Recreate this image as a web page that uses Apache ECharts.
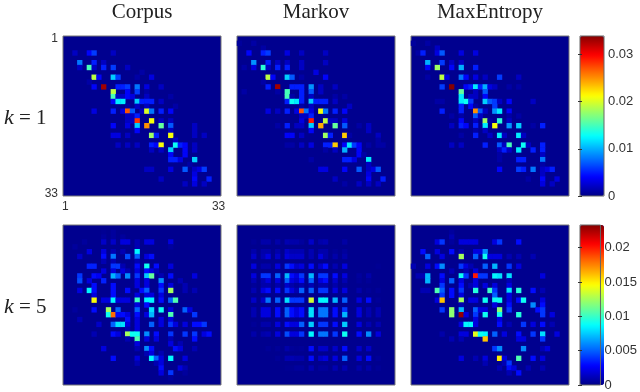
<!DOCTYPE html>
<html><head><meta charset="utf-8">
<style>html,body{margin:0;padding:0;background:#fff}#c{width:640px;height:392px;filter:blur(0.45px)}</style>
<script src="https://cdn.jsdelivr.net/npm/echarts@6/dist/echarts.min.js"></script>
</head><body><div id="c"></div>
<script>
const panelTitles = ['Corpus', 'Markov', 'MaxEntropy'];
const rowLabels = ['1', '5'];
const tickEnds = ['1', '33'];
const colorMaxK1 = 0.0339, colorMaxK5 = 0.0233;
const ticksK1 = [0, 0.01, 0.02, 0.03], ticksK5 = [0, 0.005, 0.01, 0.015, 0.02];

// [row, col, value], zero-based from top-left; unlisted cells are 0
const corpusK1 = [[3,2,.002],[3,5,.004],[3,6,.006],[3,10,.002],
[5,3,.008],[5,6,.005],[5,8,.002],
[6,3,.002],[6,5,.015],[6,6,.002],[6,8,.005],[6,10,.006],[6,13,.002],[7,16,.001],
[8,6,.019],[8,7,.004],[8,10,.011],[8,11,.006],[8,15,.001],[8,18,.003],[9,5,.001],
[10,6,.004],[10,8,.033],[10,11,.005],[10,12,.005],[10,13,.006],[10,15,.008],[10,17,.003],[10,20,.002],
[11,10,.019],[11,13,.004],[11,15,.006],[11,17,.001],
[12,10,.015],[12,11,.002],[12,12,.002],[12,13,.004],[12,14,.003],[12,17,.002],[12,22,.001],
[13,10,.004],[13,11,.012],[13,12,.012],[13,15,.011],[13,16,.005],[13,17,.005],[13,18,.005],[13,20,.002],
[14,13,.001],[14,15,.002],[14,17,.002],[14,23,.001],
[15,6,.003],[15,10,.005],[15,12,.003],[15,13,.027],[15,14,.007],[15,16,.002],[15,17,.02],[15,18,.008],[15,20,.005],[15,22,.004],
[16,13,.002],[16,14,.002],[16,15,.005],
[17,13,.002],[17,14,.002],[17,15,.028],[17,18,.021],[17,20,.002],[17,22,.002],
[18,10,.004],[18,13,.003],[18,15,.011],[18,17,.025],[18,20,.016],[18,22,.007],[18,27,.002],
[19,15,.004],[19,22,.002],[19,27,.002],
[20,10,.003],[20,11,.003],[20,13,.002],[20,18,.018],[20,19,.005],[20,22,.021],[20,27,.002],[20,29,.002],
[21,23,.002],
[22,11,.002],[22,13,.002],[22,15,.002],[22,18,.005],[22,19,.004],[22,20,.021],[22,23,.013],[22,24,.005],[22,25,.004],[22,27,.002],
[23,18,.002],[23,20,.002],[23,22,.011],[23,25,.004],[23,27,.002],
[24,22,.004],[24,25,.004],
[25,22,.005],[25,23,.005],[25,24,.003],[25,27,.011],[26,26,.001],
[27,17,.002],[27,18,.002],[27,22,.003],[27,25,.007],[27,27,.002],[27,28,.003],[27,29,.006],
[28,27,.003],[29,20,.002],[29,27,.004],[29,30,.005],
[30,25,.002],[30,27,.003],[30,29,.002]];

const markovK1 = [[1,0,.0007],[1,3,.001],[2,5,.001],
[3,2,.004],[3,5,.005],[3,6,.006],[3,10,.003],[3,13,.002],[3,18,.002],
[5,3,.009],[5,6,.005],[5,8,.002],[5,10,.002],[5,13,.002],[5,18,.002],
[6,1,.001],[6,3,.003],[6,5,.014],[6,6,.002],[6,8,.005],[6,10,.005],[6,13,.002],[7,16,.003],
[8,6,.019],[8,7,.004],[8,10,.011],[8,11,.007],[8,13,.001],[8,18,.004],[9,5,.001],
[10,6,.005],[10,8,.033],[10,11,.005],[10,12,.005],[10,13,.005],[10,15,.009],[10,17,.002],[10,20,.002],
[11,1,.001],[11,8,.001],[11,10,.015],[11,13,.005],[11,15,.007],[11,17,.002],
[12,10,.015],[12,11,.001],[12,13,.005],[12,15,.002],[12,20,.001],[12,22,.001],
[13,10,.005],[13,11,.013],[13,12,.012],[13,13,.005],[13,15,.011],[13,16,.005],[13,17,.005],[13,18,.005],[13,20,.002],
[14,13,.001],[14,15,.002],[14,23,.002],
[15,6,.003],[15,8,.002],[15,10,.005],[15,12,.003],[15,13,.027],[15,14,.008],[15,15,.003],[15,17,.021],[15,18,.008],[15,20,.005],[15,22,.004],
[16,13,.002],[16,14,.002],[16,15,.005],
[17,13,.003],[17,15,.029],[17,18,.019],[17,19,.002],[17,20,.002],[17,22,.003],
[18,8,.001],[18,10,.005],[18,12,.002],[18,13,.002],[18,15,.011],[18,17,.024],[18,20,.016],[18,22,.007],[18,25,.001],[18,27,.002],
[19,15,.004],[19,27,.002],
[20,10,.004],[20,11,.004],[20,13,.002],[20,18,.018],[20,19,.005],[20,22,.023],[20,23,.001],[20,29,.002],[21,29,.001],
[22,10,.001],[22,11,.001],[22,13,.002],[22,15,.003],[22,18,.005],[22,19,.005],[22,20,.023],[22,22,.004],[22,23,.012],[22,24,.006],[22,25,.004],[22,27,.001],[22,29,.001],[22,30,.001],
[23,18,.001],[23,20,.002],[23,22,.01],[23,25,.004],
[24,25,.004],[24,26,.001],
[25,15,.001],[25,22,.005],[25,23,.005],[25,24,.003],[25,27,.012],[26,27,.002],
[27,17,.003],[27,18,.003],[27,22,.004],[27,25,.007],[27,27,.002],[27,28,.003],[27,29,.007],
[28,27,.003],[29,20,.002],[29,27,.004],[29,30,.005],
[30,22,.001],[30,25,.002],[30,27,.002],[30,29,.002]];

const maxEntK1 = [[1,0,.0007],[1,3,.001],[2,5,.002],
[3,1,.001],[3,2,.005],[3,5,.003],[3,6,.007],[3,10,.003],[3,13,.003],
[5,3,.01],[5,6,.006],[5,8,.002],[5,10,.002],
[6,3,.004],[6,5,.018],[6,8,.004],[6,10,.01],[6,13,.005],
[8,3,.001],[8,6,.019],[8,7,.003],[8,10,.008],[8,11,.004],[8,13,.003],[8,15,.002],[8,18,.006],[8,22,.002],
[10,6,.006],[10,8,.034],[10,11,.004],[10,12,.005],[10,13,.012],[10,14,.005],[10,15,.01],[10,16,.003],[10,17,.002],[10,20,.001],[10,22,.001],
[11,10,.016],[11,13,.002],[11,15,.007],
[12,10,.012],[12,12,.002],[12,13,.002],[12,15,.004],
[13,5,.001],[13,6,.001],[13,10,.012],[13,11,.013],[13,12,.006],[13,15,.011],[13,16,.007],[13,17,.006],[13,18,.002],[13,20,.004],[13,25,.002],
[14,10,.005],[14,12,.004],[14,13,.001],[14,17,.006],
[15,6,.005],[15,10,.005],[15,13,.025],[15,14,.007],[15,15,.002],[15,17,.009],[15,18,.012],[15,20,.004],
[16,8,.001],[16,10,.001],[16,13,.007],[16,14,.002],[16,20,.001],[16,22,.001],
[17,10,.004],[17,13,.002],[17,15,.018],[17,16,.001],[17,18,.014],[17,20,.002],
[18,8,.002],[18,10,.005],[18,11,.004],[18,13,.005],[18,15,.012],[18,17,.021],[18,20,.009],[18,22,.011],[18,25,.001],[18,27,.005],
[19,13,.001],[19,15,.002],
[20,10,.001],[20,13,.005],[20,16,.002],[20,18,.012],[20,19,.002],[20,22,.012],[20,23,.002],
[22,8,.002],[22,10,.002],[22,15,.005],[22,18,.007],[22,19,.002],[22,20,.015],[22,23,.013],[22,24,.002],[22,27,.005],
[23,18,.002],[23,19,.005],[23,20,.002],[23,22,.012],[23,25,.005],[23,27,.005],
[24,18,.001],[24,27,.002],
[25,18,.001],[25,22,.005],[25,23,.005],[25,27,.008],[26,27,.001],
[27,18,.004],[27,22,.006],[27,23,.005],[27,25,.008],[27,27,.002],[27,28,.003],[27,29,.005],
[28,27,.002],[29,24,.001],[29,27,.004],[29,30,.003],[30,27,.003],[30,29,.002]];

const corpusK5 = [[1,8,.0003],[1,10,.0005],[2,8,.0005],[2,10,.0005],[2,12,.0005],
[3,4,.0005],[3,8,.0015],[3,10,.0015],[3,12,.002],[3,13,.002],[3,15,.001],[3,17,.002],[3,18,.002],[3,22,.002],
[4,2,.0005],[4,15,.001],[4,22,.0005],
[5,5,.002],[5,8,.002],[5,10,.001],[5,12,.001],[5,15,.0085],
[6,3,.0015],[6,8,.003],[6,10,.0055],[6,13,.0045],[6,15,.005],[6,17,.002],[6,18,.003],
[7,8,.001],[7,10,.001],[7,15,.001],
[8,5,.0035],[8,6,.0035],[8,10,.004],[8,11,.004],[8,12,.001],[8,15,.003],[8,17,.009],[8,19,.003],[8,22,.002],
[9,8,.002],[9,10,.002],[9,12,.002],[9,13,.001],[9,15,.002],[9,17,.003],[9,18,.002],[9,19,.001],
[10,3,.004],[10,6,.003],[10,7,.0025],[10,10,.007],[10,11,.005],[10,13,.006],[10,15,.004],[10,17,.0075],[10,18,.011],[10,20,.001],[10,22,.003],[10,27,.002],
[11,3,.0045],[11,5,.002],[11,8,.0035],[11,15,.002],[11,17,.002],[11,20,.006],[11,24,.001],
[12,6,.003],[12,10,.003],[12,15,.002],[12,17,.002],[12,20,.003],[12,22,.002],[12,25,.001],
[13,3,.002],[13,5,.0085],[13,6,.003],[13,10,.003],[13,13,.003],[13,16,.003],[13,17,.005],[13,20,.004],[13,22,.0125],[13,25,.001],[13,27,.001],
[14,6,.002],[14,10,.003],[14,15,.002],[14,17,.002],[14,18,.002],[14,20,.002],
[15,6,.0145],[15,8,.002],[15,9,.002],[15,10,.0085],[15,11,.002],[15,12,.002],[15,13,.002],[15,15,.01],[15,17,.0085],[15,18,.0085],[15,20,.003],[15,22,.005],[15,23,.0105],
[16,15,.002],[16,17,.003],
[17,2,.0005],[17,6,.003],[17,9,.0125],[17,11,.005],[17,15,.005],[17,18,.008],[17,20,.009],[17,22,.002],[17,25,.005],[17,26,.002],
[18,9,.009],[18,10,.018],[18,11,.003],[18,12,.003],[18,13,.002],[18,15,.003],[18,17,.002],[18,18,.007],[18,22,.0105],[18,27,.004],
[19,3,.001],[19,13,.003],[19,15,.002],[19,20,.002],[19,22,.002],
[20,7,.0015],[20,10,.005],[20,11,.008],[20,12,.008],[20,13,.002],[20,15,.002],[20,18,.005],[20,20,.002],[20,22,.004],[20,23,.002],[20,25,.002],[20,27,.003],[20,28,.003],[20,29,.004],
[21,13,.001],[21,15,.002],
[22,6,.001],[22,10,.003],[22,11,.002],[22,13,.0125],[22,14,.009],[22,15,.009],[22,17,.006],[22,19,.003],[22,22,.004],[22,25,.004],[22,27,.004],[22,29,.002],[22,30,.003],
[23,13,.001],[23,15,.0105],[23,17,.002],[23,19,.002],[23,22,.001],[23,27,.003],
[24,15,.002],[24,22,.002],[24,24,.001],
[25,8,.002],[25,15,.001],[25,17,.006],[25,18,.003],[25,23,.003],[25,24,.002],[25,27,.001],
[26,17,.001],[26,18,.002],[26,20,.001],
[27,10,.003],[27,15,.002],[27,18,.0085],[27,19,.005],[27,20,.002],[27,22,.0085],[27,25,.002],
[28,15,.001],[28,19,.001],[28,20,.002],
[29,20,.003],[29,24,.002],[29,25,.001],
[30,20,.002],[30,22,.004],[30,25,.0005],[31,22,.0005]];

const markovRows = [3,5,6,8,10,11,12,13,15,17,18,20,22,25,27,29];
const markovCols = [3,5,6,8,10,11,12,13,15,17,18,20,22,25,27,29];
const markovK5Grid = [
[.0004,.0008,.0008,.0008,.001,.0008,.0008,.0005,.0015,.0008,.001,.0002,.0007,0,0,0],
[.0008,.0008,.0008,.0008,.0015,.001,.001,.001,.001,.0008,.0008,.0004,.0005,0,0,0],
[.0015,.001,.002,.0015,.002,.0015,.0015,.0015,.001,.002,.0008,.0008,.0008,0,0,0],
[.002,.0008,.0008,.002,.004,.003,.0015,.002,.003,.0015,.003,.001,.002,0,0,.0003],
[.002,.004,.004,.005,.007,.003,.002,.004,.007,.004,.004,.003,.002,.0005,.0008,0],
[.001,.001,.002,.002,.005,.002,.0015,.003,.005,.002,.003,.0015,.001,.0004,.0004,0],
[.0004,.0008,.0008,.0008,.0015,.0008,.0004,.0008,.001,.0008,.0008,.0008,.0004,0,0,0],
[.001,.002,.003,.003,.004,.002,.001,.005,.005,.004,.004,.002,.002,.0008,.0004,.0004],
[.0015,.0015,.0055,.005,.008,.004,.004,.004,.0135,.0085,.0085,.007,.005,.002,.003,.0004],
[.001,.002,.002,.003,.005,.003,.002,.003,.008,.0055,.0055,.003,.004,.002,.001,.001],
[.001,.002,.002,.003,.005,.003,.002,.003,.008,.0055,.0055,.003,.007,.002,.001,.001],
[.0004,.0008,.0008,.002,.003,.002,.002,.005,.0075,.004,.004,.003,.0075,.002,.001,.001],
[.0008,.0008,.001,.002,.0045,.002,.002,.004,.0085,.0055,.0055,.004,.009,.003,.006,.002],
[0,0,.0004,.0004,.0008,.0004,.0003,.0004,.003,.0015,.0015,.0015,.003,.0015,.0015,0],
[0,0,0,.0004,.001,.001,.0008,.0008,.003,.0015,.002,.002,.005,.002,.003,.0004],
[0,0,0,0,.0003,.0003,.0005,.0005,.001,.0005,.0005,.001,.001,.0008,.0008,.0004]];

const maxEntK5 = [[1,8,.0005],[2,8,.001],
[3,5,.002],[3,6,.004],[3,8,.0005],[3,10,.002],[3,11,.002],[3,12,.002],[3,13,.002],[3,17,.002],[3,18,.004],[3,22,.003],
[5,2,.003],[5,5,.002],[5,8,.003],[5,10,.001],[5,13,.002],[5,14,.002],[5,15,.006],
[6,3,.005],[6,6,.002],[6,10,.0125],[6,13,.005],[6,15,.009],[6,16,.002],[6,17,.002],[6,18,.002],[6,20,.001],[6,22,.001],[6,25,.001],
[8,0,.001],[8,3,.002],[8,5,.003],[8,6,.006],[8,10,.004],[8,11,.002],[8,12,.001],[8,15,.005],[8,17,.007],[8,20,.004],[8,22,.002],
[9,8,.001],[9,11,.001],[9,13,.002],
[10,1,.001],[10,2,.001],[10,3,.007],[10,6,.003],[10,10,.009],[10,11,.004],[10,13,.02],[10,14,.004],[10,15,.004],[10,17,.0085],[10,18,.008],[10,20,.008],[10,27,.002],
[11,3,.007],[11,6,.002],[11,8,.005],[11,10,.002],[11,13,.002],[11,20,.001],
[12,6,.004],[12,10,.003],[12,12,.001],[12,13,.002],[12,15,.002],[12,17,.002],[12,20,.002],
[13,2,.001],[13,3,.001],[13,5,.0105],[13,6,.005],[13,8,.003],[13,10,.004],[13,13,.0095],[13,16,.01],[13,17,.004],[13,20,.008],[13,22,.0095],[13,25,.003],[13,27,.001],
[14,6,.004],[14,8,.003],[14,10,.002],[14,17,.005],[14,20,.002],
[15,5,.002],[15,6,.016],[15,10,.0125],[15,12,.002],[15,13,.002],[15,15,.009],[15,17,.009],[15,18,.009],[15,20,.002],[15,22,.003],[15,23,.009],[15,27,.002],
[16,10,.001],[16,17,.002],[16,20,.003],[16,25,.006],[16,27,.003],
[17,6,.004],[17,8,.012],[17,10,.007],[17,13,.005],[17,14,.002],[17,15,.002],[17,18,.012],[17,20,.004],[17,26,.003],[17,27,.004],
[18,8,.012],[18,10,.023],[18,11,.002],[18,13,.004],[18,15,.009],[18,18,.009],[18,22,.0095],[18,27,.004],[18,29,.002],
[19,13,.002],[19,18,.002],
[20,10,.002],[20,11,.0085],[20,12,.0085],[20,13,.002],[20,18,.003],[20,20,.001],[20,23,.004],[20,25,.002],[20,27,.003],[20,29,.001],
[22,6,.0008],[22,10,.002],[22,11,.002],[22,13,.014],[22,14,.009],[22,15,.0085],[22,17,.005],[22,19,.002],[22,22,.003],[22,25,.004],[22,27,.008],[22,30,.002],
[23,8,.001],[23,10,.001],[23,15,.016],[23,22,.002],[23,23,.002],[23,27,.004],
[25,17,.004],[25,18,.006],[25,23,.006],[25,27,.001],[25,28,.002],
[27,10,.002],[27,13,.001],[27,15,.002],[27,18,.015],[27,19,.002],[27,22,.0105],[27,25,.003],[27,27,.002],
[28,15,.001],[28,19,.001],[28,20,.004],
[29,18,.001],[29,20,.003],[29,21,.002],[29,24,.001],[29,27,.001],
[30,20,.001],[30,22,.003]];

const markovK5 = [];
markovRows.forEach((r, i) => markovCols.forEach((c, j) => {
  if (markovK5Grid[i][j] > 0) markovK5.push([r, c, markovK5Grid[i][j]]);
}));

function jet(n) {
  const ch = (t, centre) => {
    const v = Math.max(0, Math.min(1, 1.5 - Math.abs(4 * t - centre)));
    return Math.round(255 * v).toString(16).padStart(2, '0');
  };
  const out = [];
  for (let i = 0; i < n; i++) {
    const t = (i + 0.5) / n;
    out.push('#' + ch(t, 3) + ch(t, 2) + ch(t, 1));
  }
  return out;
}
const cats = Array.from({ length: 33 }, (_, i) => String(i + 1));
const panels = [corpusK1, markovK1, maxEntK1, corpusK5, markovK5, maxEntK5];
const lefts = [63, 237, 411], tops = [36, 225];
const grids = [], xAxes = [], yAxes = [], series = [];
const labelStyle = { fontFamily: '"Liberation Sans"', fontSize: 12, color: '#333' };

panels.forEach((data, i) => {
  const row = i < 3 ? 0 : 1, col = i % 3;
  grids.push({ left: lefts[col], top: tops[row], width: 158, height: 160, show: true,
    backgroundColor: '#00008f', borderColor: '#777', borderWidth: 1 });
  const withTicks = i === 0;
  const showEnds = (idx) => withTicks && (idx === 0 || idx === 32);
  const fmt = (v, idx) => idx === 0 ? tickEnds[0] : tickEnds[1];
  xAxes.push({ type: 'category', gridIndex: i, data: cats, position: 'bottom',
    axisLine: { show: false }, axisTick: { show: false }, splitLine: { show: false },
    axisLabel: Object.assign({ show: withTicks, interval: showEnds, margin: 5, formatter: fmt, hideOverlap: false }, labelStyle) });
  yAxes.push({ type: 'category', gridIndex: i, data: cats, inverse: true,
    axisLine: { show: false }, axisTick: { show: false }, splitLine: { show: false },
    axisLabel: Object.assign({ show: withTicks, interval: showEnds, margin: 5, formatter: fmt, hideOverlap: false }, labelStyle) });
  series.push({ type: 'heatmap', xAxisIndex: i, yAxisIndex: i, silent: true, progressive: 0, animation: false,
    data: data.map((d) => [d[1], d[0], d[2]]), itemStyle: { borderWidth: 0 }, emphasis: { disabled: true } });
});

// colour bar frames and their tick axes
[[36, colorMaxK1, ticksK1], [225, colorMaxK5, ticksK5]].forEach(([top, max, ticks]) => {
  const g = grids.length;
  grids.push({ left: 580, top: top, width: 24, height: 160, show: true, z: 10,
    backgroundColor: 'transparent', borderColor: '#666', borderWidth: 1 });
  xAxes.push({ type: 'value', gridIndex: g, show: false, min: 0, max: 1, z: 10 });
  const tickBase = { type: 'value', gridIndex: g, min: 0, max: max, z: 10,
    axisLine: { show: false }, splitLine: { show: false },
    axisTick: { show: true, inside: true, length: 2, customValues: ticks, lineStyle: { color: '#333' } } };
  yAxes.push(Object.assign({}, tickBase, { position: 'right',
    axisLabel: { show: true, margin: 4, customValues: ticks, fontFamily: '"Liberation Sans"', fontSize: 13, color: '#333',
      formatter: (v) => String(+(+v).toFixed(3)) } }));
  yAxes.push(Object.assign({}, tickBase, { position: 'left', axisLabel: { show: false } }));
});

const serif = '"Liberation Serif"';
const titles = [];
panelTitles.forEach((t, i) => titles.push({ text: t, left: lefts[i] + 79, top: 2, textAlign: 'center', padding: 0,
  textStyle: { fontFamily: serif, fontSize: 21, fontWeight: 'normal', color: '#222' } }));
rowLabels.forEach((t, i) => titles.push({ text: '{i|k} = ' + t, left: 4, top: i ? 296 : 107, padding: 0,
  textStyle: { rich: { i: { fontFamily: serif, fontStyle: 'italic', fontSize: 22, color: '#222' } },
    fontFamily: serif, fontSize: 21, fontWeight: 'normal', color: '#222' } }));

const chart = echarts.init(document.getElementById('c'), null, { renderer: 'canvas' });
chart.setOption({
  animation: false, backgroundColor: '#fff', title: titles,
  grid: grids, xAxis: xAxes, yAxis: yAxes, series: series,
  visualMap: [
    { type: 'continuous', seriesIndex: [0, 1, 2], dimension: 2, min: 0, max: colorMaxK1, left: 580, top: 36, itemWidth: 24, itemHeight: 160, padding: 0, calculable: false, hoverLink: false, text: null, inRange: { color: jet(64) }, outOfRange: { color: '#00008f' } },
    { type: 'continuous', seriesIndex: [3, 4, 5], dimension: 2, min: 0, max: colorMaxK5, left: 580, top: 225, itemWidth: 24, itemHeight: 160, padding: 0, calculable: false, hoverLink: false, text: null, inRange: { color: jet(64) }, outOfRange: { color: '#00008f' } }
  ]
});
</script></body></html>
